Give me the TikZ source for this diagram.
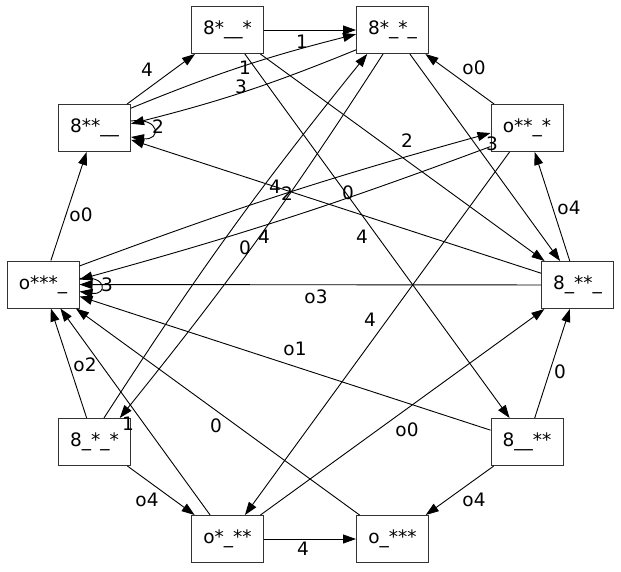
\documentclass[tikz,border=0pt]{standalone}
\usepackage{fontspec}
\setmainfont{DejaVu Sans}
\usetikzlibrary{arrows.meta}
\begin{document}
\begin{tikzpicture}[x=1pt,y=1pt,
  box/.style={draw=black!80, line width=1pt, rectangle, minimum width=72pt, minimum height=47pt, inner sep=0pt, font=\fontsize{18.5}{22}\selectfont},
  e/.style={line width=0.9pt, -{Triangle[length=13pt,width=9pt]}},
  lbl/.style={inner sep=0pt, font=\fontsize{18.5}{22}\selectfont}]
\useasboundingbox (0,0) rectangle (621,-571);
\node[box] (A) at (227.5,-30) {8*\_\_*};
\node[box] (B) at (392.5,-30) {8*\_*\_};
\node[box] (C) at (94.5,-128) {8**\_\_};
\node[box] (D) at (527,-128) {o**\_*};
\node[box] (E) at (43,-284.5) {o***\_};
\node[box] (F) at (577.5,-285) {8\_**\_};
\node[box] (G) at (94.5,-442) {8\_*\_*};
\node[box] (H) at (527,-442) {8\_\_**};
\node[box] (I) at (227.5,-539) {o*\_**};
\node[box] (J) at (392.5,-539) {o\_***};
% edges
\draw[e] (C) -- (A) node[lbl] at (147,-70) {4};
\draw[e] (A) -- (B) node[lbl] at (302,-42) {1};
\draw[e, transform canvas={yshift=5pt}] (C) to[bend left=4] (B);
\node[lbl] (l3) at (245,-68) {1};
\draw[e, transform canvas={yshift=-5pt}] (B) to[bend left=4] (C);
\node[lbl] (l4) at (241,-87) {3};
\draw[e] ([yshift=7pt]C.east) .. controls +(30,4) and +(30,-4) .. ([yshift=-9pt]C.east) node[lbl] at (158,-127) {2};
\draw[e] (D) -- (B) node[lbl] at (474,-68) {o0};
\draw[e] (A) -- (F) node[lbl] at (407,-141) {2};
\draw[e] (B) -- (F) node[lbl] at (492,-144) {3};
\draw[e] (E) -- (C) node[lbl] at (81,-215) {o0};
\draw[e] (F) -- (D) node[lbl] at (569,-208) {o4};
\draw[e] ([yshift=6pt]E.east) .. controls +(28,4) and +(28,-4) .. ([yshift=-7pt]E.east) node[lbl] at (107,-285) {3};
\draw[e] (F) -- (E) node[lbl] at (316,-297) {o3};
\draw[e] (H) -- (E) node[lbl] at (295,-349) {o1};
\draw[e] (G) -- (E) node[lbl] at (85,-365) {o2};
\draw[e] (J) -- (E) node[lbl] at (216,-426) {0};
\draw[e] (H) -- (F) node[lbl] at (560,-372) {0};
\draw[e] (I) -- (F) node[lbl] at (407,-430) {o0};
\draw[e] (G) -- (I) node[lbl] at (147,-500) {o4};
\draw[e] (H) -- (J) node[lbl] at (474,-500) {o4};
\draw[e] (I) -- (J) node[lbl] at (303,-549) {4};
\draw[e] (D) -- (I) node[lbl] at (370,-320) {4};
\draw[e] (A) -- (H) node[lbl] at (362,-237) {4};
\draw[e] (I) -- (E) node[lbl] at (128,-424) {1};
\draw[e, transform canvas={yshift=-5pt}] (D) to[bend left=2.5] (E);
\node[lbl] (l24) at (275,-187) {4};
\draw[e, transform canvas={yshift=5pt}] (E) to[bend left=2.5] (D);
\node[lbl] (l25) at (287,-194) {2};
\draw[e] (F) -- (C) node[lbl] at (348,-193) {0};
\draw[e, transform canvas={xshift=-6pt}] (G) to[bend left=3] (B);
\node[lbl] (l27) at (245,-248) {0};
\draw[e, transform canvas={xshift=6pt}] (B) to[bend left=3] (G);
\node[lbl] (l28) at (264,-237) {4};
\end{tikzpicture}
\end{document}
